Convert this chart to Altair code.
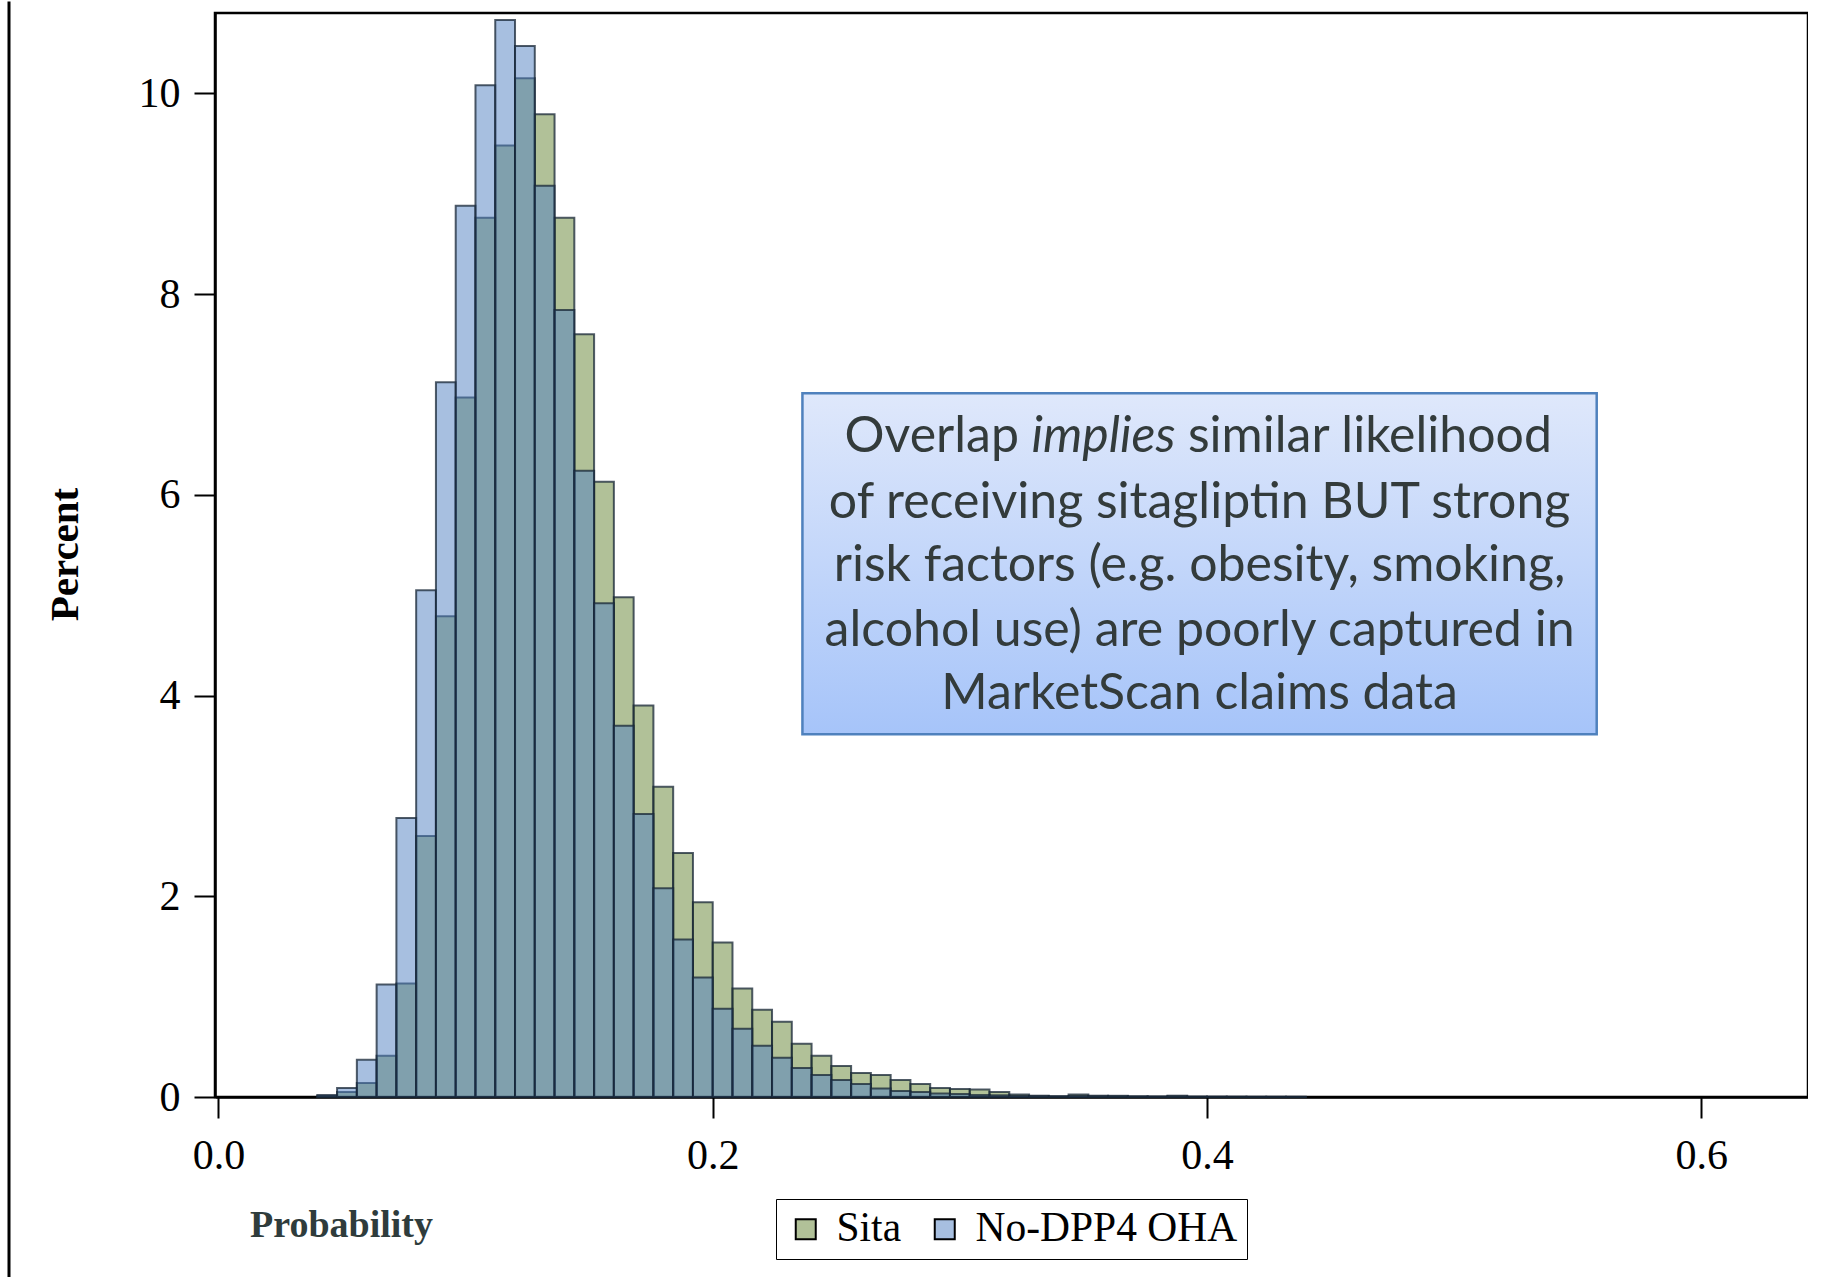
import altair as alt
import pandas as pd

# Histogram of propensity scores, two treatment groups, bin width 0.008
BIN_WIDTH = 0.008
FIRST_BIN = 5  # first drawn bin starts at 5 * 0.008 = 0.040

series_names = ["Sita", "No-DPP4 OHA"]
fill_colors = ["rgba(99,131,49,0.5)", "rgba(79,127,193,0.5)"]

sita_pct = [
    0.01, 0.05, 0.14, 0.41, 1.13, 2.60, 4.79, 6.97, 8.76, 9.48,
    10.15, 9.79, 8.76, 7.60, 6.13, 4.98, 3.90, 3.09, 2.43, 1.94,
    1.54, 1.08, 0.87, 0.75, 0.53, 0.41, 0.31, 0.24, 0.22, 0.17,
    0.13, 0.09, 0.08, 0.075, 0.05, 0.025, 0.013, 0.008, 0.025, 0.013,
    0.012, 0.006, 0.005, 0.013, 0.004, 0.003, 0.003, 0.002, 0.002, 0.002,
]
nodpp4_pct = [
    0.02, 0.09, 0.37, 1.12, 2.78, 5.05, 7.12, 8.88, 10.08, 10.73,
    10.47, 9.08, 7.84, 6.24, 4.92, 3.70, 2.82, 2.08, 1.57, 1.19,
    0.88, 0.68, 0.51, 0.39, 0.29, 0.22, 0.17, 0.13, 0.085, 0.06,
    0.05, 0.035, 0.03, 0.02, 0.017, 0.01, 0.007, 0.004, 0.01, 0.006,
    0.005, 0.004, 0.003, 0.005, 0.002, 0.002, 0.001, 0.001, 0.001, 0.001,
]

x_ticks = [0.0, 0.2, 0.4, 0.6]
y_ticks = [0, 2, 4, 6, 8, 10]

note_lines = [
    "of receiving sitagliptin BUT strong",
    "risk factors (e.g. obesity, smoking,",
    "alcohol use) are poorly captured in",
    "MarketScan claims data",
]
note_line_y = [5.916, 5.288, 4.643, 4.011]
note_first_y = 6.571
note_center_x = 0.397

rows = []
for name, values in zip(series_names, [sita_pct, nodpp4_pct]):
    for i, v in enumerate(values):
        lo = round((FIRST_BIN + i) * BIN_WIDTH, 4)
        rows.append({"series": name, "lo": lo, "hi": round(lo + BIN_WIDTH, 4), "pct": v})
hist = pd.DataFrame(rows)

x_scale = alt.Scale(domain=[-0.0014, 0.6432], nice=False, zero=False)
y_scale = alt.Scale(domain=[0, 10.8], nice=False, zero=True)

SERIF = "Liberation Serif"

bars = alt.Chart(hist).mark_bar(
    stroke="#172635", strokeWidth=2, strokeOpacity=0.75
).encode(
    x=alt.X(
        "lo:Q", scale=x_scale, title="Probability",
        axis=alt.Axis(
            values=x_ticks, format=".1f", labelPadding=17,
            titleFont=SERIF, titleFontSize=38, titleFontWeight="bold",
            titleColor="#2f3c3c", titleX=126, titleY=128,
            titleAlign="center", titleBaseline="middle",
        ),
    ),
    x2="hi:Q",
    y=alt.Y(
        "pct:Q", scale=y_scale, stack=None, title="Percent",
        axis=alt.Axis(
            values=y_ticks, format="d", labelPadding=14,
            titleFont=SERIF, titleFontSize=41, titleFontWeight="bold",
            titleColor="black", titleX=-150, titleY=541, titleAngle=270,
            titleAlign="center", titleBaseline="middle",
        ),
    ),
    y2=alt.datum(0),
    color=alt.Color(
        "series:N",
        scale=alt.Scale(domain=series_names, range=fill_colors),
        legend=alt.Legend(
            title=None, orient="none", legendX=561, legendY=1186,
            direction="horizontal", symbolType="square", symbolSize=400,
            symbolStrokeColor="black", symbolStrokeWidth=2,
            labelFont=SERIF, labelFontSize=41.5, labelColor="black",
            labelOffset=10, labelLimit=600, columnPadding=22, padding=9,
            strokeColor="black", fillColor="white",
        ),
    ),
)

note_box = alt.Chart(
    pd.DataFrame({"x0": [0.2363], "x1": [0.5577], "y0": [7.012], "y1": [3.615]})
).mark_rect(
    fill=alt.Gradient(
        gradient="linear",
        stops=[
            alt.GradientStop(color="#dfe8fb", offset=0),
            alt.GradientStop(color="#a6c4f9", offset=1),
        ],
        x1=0, x2=0, y1=0, y2=1,
    ),
    stroke="#4f81bd", strokeWidth=2.5,
).encode(x="x0:Q", x2="x1:Q", y="y0:Q", y2="y1:Q")

NOTE_FONT = "Lato"
NOTE_SIZE = 50
NOTE_COLOR = "#333b3b"

first_parts = [
    ("Overlap", 0.3239, "right", "normal"),
    ("implies", 0.3581, "center", "italic"),
    ("similar likelihood", 0.3923, "left", "normal"),
]
first_layers = []
for text, xpos, align, style in first_parts:
    first_layers.append(
        alt.Chart(pd.DataFrame({"x": [xpos], "y": [note_first_y], "t": [text]}))
        .mark_text(font=NOTE_FONT, fontSize=NOTE_SIZE, color=NOTE_COLOR,
                   align=align, baseline="middle", fontStyle=style)
        .encode(x="x:Q", y="y:Q", text="t:N")
    )

note_text = alt.Chart(
    pd.DataFrame({"x": [note_center_x] * len(note_lines), "y": note_line_y, "t": note_lines})
).mark_text(
    font=NOTE_FONT, fontSize=NOTE_SIZE, color=NOTE_COLOR, align="center", baseline="middle"
).encode(x="x:Q", y="y:Q", text="t:N")

# full-height rule along the left edge of the figure
edge_rule = alt.Chart(pd.DataFrame({"a": [0]})).mark_rule(
    color="black", strokeWidth=3
).encode(x=alt.value(-206), y=alt.value(-11.5), y2=alt.value(1264))

chart = alt.layer(
    bars, note_box, *first_layers, note_text, edge_rule
).properties(
    width=1593, height=1084,
    padding={"left": 7, "top": 0, "right": 0, "bottom": 0},
    background="white",
).configure_view(
    stroke="black", strokeWidth=2.5
).configure_axis(
    domainColor="black", domainWidth=2.5, tickColor="black", tickWidth=2,
    tickSize=21, labelFont=SERIF, labelFontSize=42, labelColor="black", grid=False,
)

chart.save("out.html", embed_options={"renderer": "svg", "actions": False})
